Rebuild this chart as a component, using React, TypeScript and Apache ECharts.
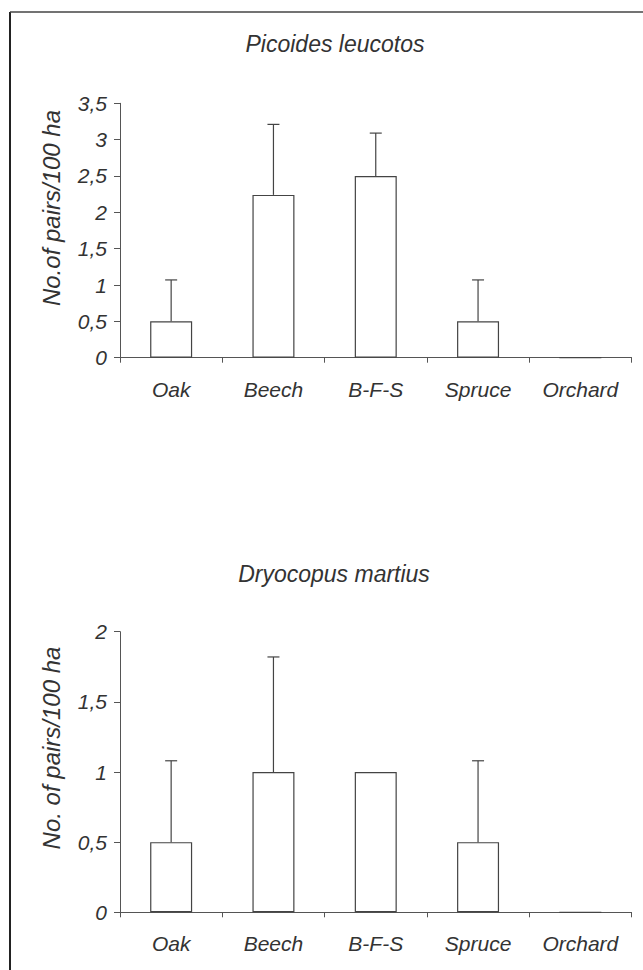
import React, { useEffect, useRef } from "react";
import * as echarts from "echarts";

const categories = ["Oak", "Beech", "B-F-S", "Spruce", "Orchard"];
const leucotosTitle = "Picoides leucotos";
const leucotosMeans = [0.5, 2.24, 2.5, 0.5, 0];
const leucotosErrors = [0.57, 0.97, 0.59, 0.57, 0];
const leucotosTicks = [0, 0.5, 1, 1.5, 2, 2.5, 3, 3.5];
const leucotosYName = "No.of pairs/100 ha";

const martiusTitle = "Dryocopus martius";
const martiusMeans = [0.5, 1, 1, 0.5, 0];
const martiusErrors = [0.58, 0.82, 0, 0.58, 0];
const martiusTicks = [0, 0.5, 1, 1.5, 2];
const martiusYName = "No. of pairs/100 ha";

const FONT = "'Liberation Sans', Arial, sans-serif";
const TEXT = "#333";
const AXIS = "#555";
const LABEL_SIZE = 21;

export default function App() {
  const ref = useRef<HTMLDivElement>(null);
  useEffect(() => {
    if (!ref.current) return;
    const chart = echarts.init(ref.current, null, { renderer: "svg" });

    const grids = [
      { left: 120, right: 11.5, top: 103.3, height: 254.4 },
      { left: 120, right: 11.5, top: 631.7, height: 280.6 },
    ];
    const tickSets = [leucotosTicks, martiusTicks];
    const meanSets = [leucotosMeans, martiusMeans];
    const errSets = [leucotosErrors, martiusErrors];

    const xAxes = grids.map((_, i) => ({
      type: "category",
      gridIndex: i,
      data: categories,
      boundaryGap: true,
      axisLine: { lineStyle: { color: AXIS, width: 1.2 } },
      axisTick: { show: true, alignWithLabel: false, length: 5, lineStyle: { color: AXIS } },
      axisLabel: {
        color: TEXT,
        fontSize: LABEL_SIZE,
        fontStyle: "italic",
        fontFamily: FONT,
        margin: 21,
        interval: 0,
      },
    }));
    const yAxes = grids.map((_, i) => {
      const t = tickSets[i];
      return {
        type: "value",
        gridIndex: i,
        min: t[0],
        max: t[t.length - 1],
        interval: 0.5,
        splitLine: { show: false },
        axisLine: { show: true, lineStyle: { color: AXIS, width: 1 } },
        axisTick: { show: true, length: 6, lineStyle: { color: AXIS } },
        axisLabel: {
          color: TEXT,
          fontSize: LABEL_SIZE,
          fontStyle: "italic",
          fontFamily: FONT,
          margin: 13,
          formatter: (v: number) => String(v).replace(".", ","),
        },
      };
    });

    const series: any[] = [];
    grids.forEach((_, i) => {
      series.push({
        type: "bar",
        xAxisIndex: i,
        yAxisIndex: i,
        data: meanSets[i],
        barWidth: 42,
        itemStyle: { color: "#fff", borderColor: "#444", borderWidth: 1.2 },
        silent: true,
      });
      series.push({
        type: "custom",
        xAxisIndex: i,
        yAxisIndex: i,
        data: meanSets[i].map((m, k) => [k, m, m + errSets[i][k]]),
        renderItem: (params: any, api: any) => {
          const x = api.value(0);
          const lo = api.coord([x, api.value(1)]);
          const hi = api.coord([x, api.value(2)]);
          if (Math.abs(lo[1] - hi[1]) < 0.5) return { type: "group", children: [] };
          const style = { stroke: "#444", lineWidth: 1.2 };
          return {
            type: "group",
            children: [
              { type: "line", shape: { x1: lo[0], y1: lo[1], x2: hi[0], y2: hi[1] }, style },
              { type: "line", shape: { x1: hi[0] - 6, y1: hi[1], x2: hi[0] + 6, y2: hi[1] }, style },
            ],
          };
        },
        z: 3,
        silent: true,
      });
    });

    const titleStyle = {
      color: TEXT,
      fontSize: 23,
      fontStyle: "italic",
      fontWeight: "normal",
      fontFamily: FONT,
    };
    const nameStyle = {
      fill: TEXT,
      fontSize: 24,
      fontStyle: "italic",
      fontFamily: FONT,
      align: "center",
      verticalAlign: "middle",
    };

    chart.setOption({
      animation: false,
      backgroundColor: "#fff",
      title: [
        { text: leucotosTitle, left: 330, top: 27, textAlign: "center", textStyle: titleStyle },
        { text: martiusTitle, left: 329, top: 557, textAlign: "center", textStyle: titleStyle },
      ],
      grid: grids,
      xAxis: xAxes,
      yAxis: yAxes,
      series,
      graphic: [
        { type: "line", shape: { x1: 10, y1: 12, x2: 10, y2: 970 }, style: { stroke: "#222", lineWidth: 2 } },
        { type: "line", shape: { x1: 10, y1: 12, x2: 643, y2: 12 }, style: { stroke: "#444", lineWidth: 1.5 } },
        {
          type: "text",
          x: 51,
          y: 208,
          rotation: Math.PI / 2,
          style: { text: leucotosYName, ...nameStyle },
        },
        {
          type: "text",
          x: 51,
          y: 748,
          rotation: Math.PI / 2,
          style: { text: martiusYName, ...nameStyle },
        },
      ],
    });
    return () => chart.dispose();
  }, []);
  return <div ref={ref} style={{ position: "fixed", left: 0, top: 0, width: 643, height: 970 }} />;
}
